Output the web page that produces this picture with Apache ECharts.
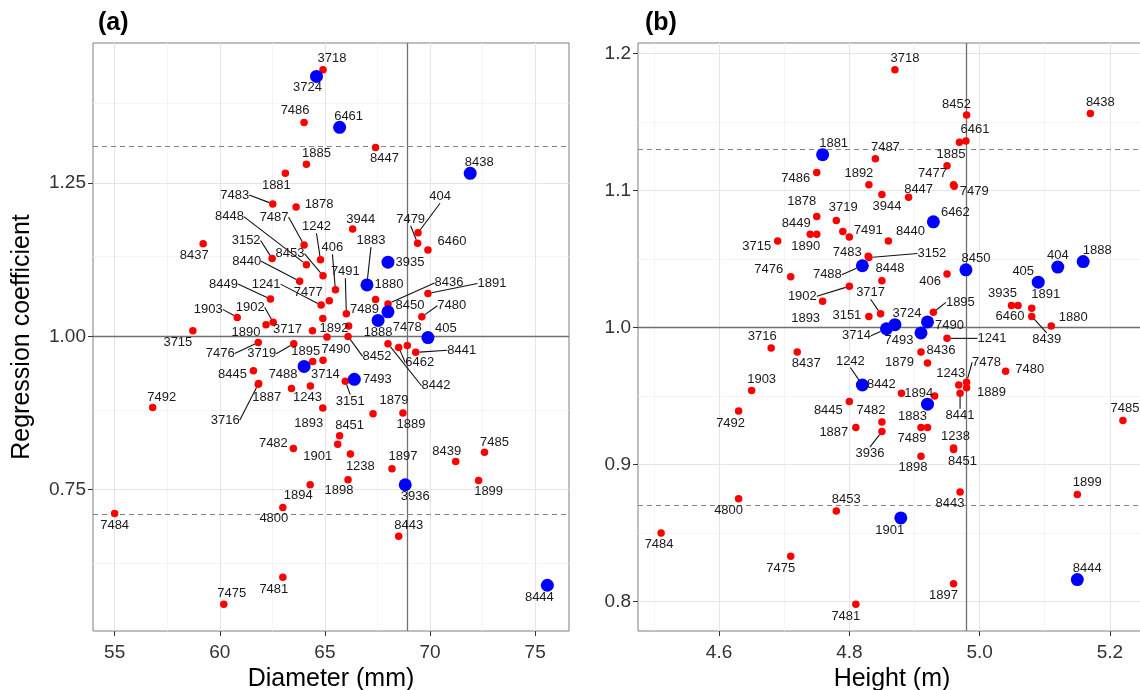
<!DOCTYPE html>
<html>
<head>
<meta charset="utf-8">
<title>Regression coefficient vs diameter and height</title>
<script src="https://cdn.jsdelivr.net/npm/echarts@6.0.0/dist/echarts.min.js"></script>
<style>
  html, body { margin: 0; padding: 0; background: #fff; }
  #chart { width: 1140px; height: 690px; }
</style>
</head>
<body>
<div id="chart"></div>
<script>
// ---------- panel (a): diameter ----------
const treeA = ['3718','3724','7486','6461','1885','1881','7483','1878','8447','8438',
  '7487','1242','8437','8448','3152','8453','8440','406','8449','1241',
  '7477','1903','1902','1890','3715','3717','7476','3719','1895','7490',
  '7488','3714','1243','8445','1887','3716','7492','3944','404','7479',
  '6460','3935','1883','1880','7491','7489','8450','8436','1891','7480',
  '1888','1892','8452','7478','8442','6462','8441','405','7493','3151',
  '1889','1879','8451','1901','1238','1898','1897','3936','8439','7485',
  '1899','8443','8444','1893','7482','1894','4800','7484','7481','7475','',''];
const diameterA = [64.91,64.60,64.01,65.70,64.12,63.12,62.52,63.63,67.41,71.91,
  64.01,64.79,59.21,64.12,62.49,64.91,63.80,65.50,62.41,64.82,
  65.21,60.83,62.54,62.20,58.72,64.41,61.83,63.52,64.42,64.91,
  64.01,64.31,63.41,61.60,61.85,61.83,56.81,66.32,69.43,69.41,
  69.90,68.00,67.00,67.00,66.02,67.41,68.00,68.00,69.90,69.61,
  67.53,65.10,66.10,68.92,68.00,68.51,69.32,69.90,66.40,65.97,
  68.71,67.29,65.70,65.61,66.21,66.10,68.19,68.82,71.22,72.59,
  72.31,68.51,75.58,64.90,63.50,64.30,63.00,55.00,63.00,60.19,64.90,66.13];
const coefA = [1.435,1.424,1.349,1.341,1.281,1.266,1.216,1.211,1.308,1.266,
  1.149,1.125,1.151,1.117,1.127,1.099,1.090,1.076,1.061,1.051,
  1.058,1.031,1.023,1.019,1.009,1.009,0.990,0.988,0.959,0.961,
  0.951,0.919,0.915,0.944,0.923,0.922,0.884,1.175,1.169,1.152,
  1.141,1.121,1.086,1.084,1.037,1.060,1.040,1.053,1.070,1.032,
  1.026,0.999,1.000,0.985,0.988,0.982,0.974,0.998,0.930,0.927,
  0.875,0.874,0.838,0.824,0.808,0.766,0.784,0.758,0.796,0.811,
  0.765,0.674,0.594,0.883,0.817,0.758,0.721,0.711,0.607,0.563,1.029,1.017];
const highlightA = ['3724','6461','8438','3935','1880','8450','1888','405','7488','7493','3936','8444'];
const refDiameter = 68.93;
const bandA = [0.711, 1.3075];

// ---------- panel (b): height ----------
const treeB = ['3718','8452','8438','6461','','1881','7487','1885','7486','1892',
  '7477','7479','8447','3944','1878','3719','6462','8449','1890','3715',
  '','7491','8440','7483','3152','7488','7476','8448','406','8450',
  '404','1888','405','3935','6460','1891','8439','1880','1902','1893',
  '3717','3151','3714','3724','7493','7490','1895','1241','8436','1879',
  '1243','7478','1889','8441','7480','3716','8437','1903','8445','7492',
  '1242','8442','1894','','1883','7482','3936','1887','7489','',
  '1898','1238','8451','8443','1901','1897','1899','8444','7485','4800',
  '8453','7484','7475','7481'];
const heightB = [4.870,4.980,5.170,4.979,4.969,4.759,4.840,4.950,4.750,4.830,
  4.960,4.961,4.891,4.850,4.750,4.780,4.929,4.740,4.750,4.690,
  4.790,4.800,4.860,4.829,4.830,4.820,4.710,4.850,4.950,4.979,
  5.120,5.159,5.090,5.049,5.059,5.080,5.080,5.110,4.800,4.759,
  4.848,4.830,4.857,4.870,4.910,4.920,4.929,4.950,4.910,4.920,
  4.968,4.980,4.980,4.970,5.040,4.680,4.720,4.650,4.800,4.630,
  4.820,4.820,4.931,4.880,4.920,4.850,4.850,4.810,4.910,4.920,
  4.910,4.960,4.960,4.970,4.879,4.960,5.150,5.150,5.220,4.630,
  4.780,4.511,4.710,4.810];
const coefB = [1.188,1.155,1.156,1.136,1.135,1.126,1.123,1.118,1.113,1.104,
  1.104,1.103,1.095,1.097,1.081,1.078,1.077,1.068,1.068,1.063,
  1.070,1.066,1.063,1.052,1.051,1.045,1.037,1.034,1.039,1.042,
  1.044,1.048,1.033,1.016,1.016,1.014,1.008,1.001,1.030,1.019,
  1.010,1.008,0.999,1.002,0.996,1.004,1.011,0.992,0.982,0.974,
  0.958,0.960,0.956,0.952,0.968,0.985,0.982,0.954,0.946,0.939,
  0.958,0.958,0.950,0.952,0.944,0.931,0.924,0.927,0.927,0.927,
  0.906,0.912,0.911,0.880,0.861,0.813,0.878,0.816,0.932,0.875,
  0.866,0.850,0.833,0.798];
const highlightB = ['1881','6462','7488','8450','404','1888','405','3714','3724','7493','7490','8442','1883','1901','8444'];
const refHeight = 4.98;
const bandB = [0.8658, 1.1349];

// ---------- tick labels ----------
const ticksDiameter = [55, 60, 65, 70, 75];
const minorDiameter = [57.5, 62.5, 67.5, 72.5];
const ticksCoefA = [0.75, 1.00, 1.25];
const minorCoefA = [0.625, 0.875, 1.125, 1.375];
const ticksHeight = [4.6, 4.8, 5.0, 5.2];
const minorHeight = [4.5, 4.7, 4.9, 5.1];
const ticksCoefB = [0.8, 0.9, 1.0, 1.1, 1.2];
const minorCoefB = [0.85, 0.95, 1.05, 1.15];

// ---------- label placement (px offset of label centre from its point) ----------
const labelPosA = {
  '3718':[9,-11],'3724':[-9,11],'7486':[-9,-12],'6461':[9,-11],'1885':[10,-11],'1881':[-9,12],
  '7483':[-38,-9],'1878':[23,-3],'8447':[9,11],'8438':[9,-11],'7487':[-30,-28],'1242':[-4,-33],
  '8437':[-9,12],'8448':[-77,-48],'3152':[-26,-18],'8453':[-33,-22],'8440':[-53,-20],'406':[-3,-42],
  '8449':[-47,-15],'1241':[-55,-21],'7477':[-21,-8],'1903':[-29,-8],'1902':[-23,-15],'1890':[-20,8],
  '3715':[-15,12],'3717':[-25,-1],'7476':[-38,11],'3719':[-32,10],'1895':[-7,-10],'7490':[13,-11],
  '7488':[-21,8],'3714':[15,-12],'1243':[16,9],'8445':[-21,4],'1887':[8,14],'3716':[-33,36],
  '7492':[9,-10],'3944':[8,-10],'404':[22,-36],'7479':[-7,-24],'6460':[24,-9],'3935':[22,0],
  '1883':[4,-43],'1880':[22,0],'7491':[-1,-42],'7489':[-11,10],'8450':[22,-6],'8436':[61,-21],
  '1891':[64,-10],'7480':[30,-11],'1888':[0,12],'1892':[7,-9],'8452':[29,20],'7478':[0,-18],
  '8442':[48,42],'6462':[21,15],'8441':[46,-2],'405':[18,-9],'7493':[23,0],'3151':[5,20],
  '1889':[8,11],'1879':[21,-13],'8451':[10,-10],'1901':[-20,12],'1238':[10,12],'1898':[-9,11],
  '1897':[11,-12],'3936':[10,12],'8439':[-9,-10],'7485':[10,-10],'1899':[10,11],'8443':[10,-11],
  '8444':[-8,12],'1893':[-14,15],'7482':[-20,-5],'1894':[-12,11],'4800':[-9,11],'7484':[0,12],
  '7481':[-9,12],'7475':[8,-11]
};
const leaderA = ['7483','7487','1242','8448','3152','8453','8440','406','8449','1241','1903','1902',
  '7476','3719','3716','404','7479','1883','7491','8436','1891','7480','8452','8442','6462','8441','3151'];

const labelPosB = {
  '3718':[10,-11],'8452':[-10,-11],'8438':[10,-11],'6461':[9,-12],'1881':[11,-11],'7487':[10,-11],
  '1885':[4,-11],'7486':[-21,6],'1892':[-10,-11],'7477':[-21,-11],'7479':[20,5],'8447':[10,-8],
  '3944':[5,12],'1878':[-15,-15],'3719':[7,-13],'6462':[22,-9],'8449':[-14,-11],'1890':[-11,12],
  '3715':[-21,5],'7491':[19,-7],'8440':[22,-10],'7483':[-21,-4],'3152':[63,-4],'7488':[-35,9],
  '7476':[-22,-7],'8448':[8,-12],'406':[-17,7],'8450':[10,-11],'404':[0,-12],'1888':[14,-11],
  '405':[-15,-11],'3935':[-9,-12],'6460':[-8,11],'1891':[14,-14],'8439':[15,23],'1880':[22,-9],
  '1902':[-47,10],'1893':[-17,17],'3717':[-10,-21],'3151':[-22,-1],'3714':[-30,7],'3724':[12,-11],
  '7493':[-22,8],'7490':[22,3],'1895':[27,-10],'1241':[45,0],'8436':[20,-2],'1879':[-28,-1],
  '1243':[-8,-12],'7478':[20,-20],'1889':[25,5],'8441':[0,22],'7480':[24,-2],'3716':[-9,-12],
  '8437':[9,11],'1903':[10,-11],'8445':[-21,9],'7492':[-8,12],'1242':[-12,-24],'8442':[19,-1],
  '1894':[-16,-3],'1883':[-15,12],'7482':[-11,-12],'3936':[-12,22],'1887':[-22,5],'7489':[-9,11],
  '1898':[-8,11],'1238':[2,-12],'8451':[9,12],'8443':[-10,12],'1901':[-11,12],'1897':[-10,12],
  '1899':[10,-12],'8444':[10,-11],'7485':[2,-12],'4800':[-10,12],'8453':[10,-12],'7484':[-2,11],
  '7475':[-10,12],'7481':[-10,12]
};
const leaderB = ['3152','7488','8439','1902','3717','3714','1895','1241','7478','8441','1242','3936'];

const FONT = "'Liberation Sans', Arial, Helvetica, sans-serif";

// ggplot-like 5% padding around the data
function padded(arr) {
  const lo = Math.min.apply(null, arr), hi = Math.max.apply(null, arr);
  const pad = (hi - lo) * 0.05;
  return [lo - pad, hi + pad];
}

function gridLines(idx, xMajor, xMinor, yMajor, yMinor) {
  const minor = { color: '#f0f0f0', width: 0.7, type: 'solid' };
  const major = { color: '#e5e5e5', width: 1.1, type: 'solid' };
  const data = [];
  xMinor.forEach(v => data.push({ xAxis: v, lineStyle: minor }));
  yMinor.forEach(v => data.push({ yAxis: v, lineStyle: minor }));
  xMajor.forEach(v => data.push({ xAxis: v, lineStyle: major }));
  yMajor.forEach(v => data.push({ yAxis: v, lineStyle: major }));
  return {
    type: 'scatter', xAxisIndex: idx, yAxisIndex: idx, data: [], silent: true, z: 1,
    markLine: { z: 1, silent: true, animation: false, symbol: ['none', 'none'], label: { show: false }, data: data }
  };
}

function refLines(idx, xRef, band) {
  const solid = { color: '#707070', width: 1.3, type: 'solid' };
  const dashed = { color: '#858585', width: 1, type: [5, 4] };
  return {
    type: 'scatter', xAxisIndex: idx, yAxisIndex: idx, data: [], silent: true, z: 2,
    markLine: {
      z: 2, silent: true, animation: false, symbol: ['none', 'none'], label: { show: false },
      data: [
        { yAxis: band[0], lineStyle: dashed },
        { yAxis: band[1], lineStyle: dashed },
        { yAxis: 1, lineStyle: solid },
        { xAxis: xRef, lineStyle: solid }
      ]
    }
  };
}

function pointSeries(idx, ids, xs, ys, blue, pos, leaders) {
  const groups = { red: { data: [], offs: [] }, blue: { data: [], offs: [] } };
  ids.forEach((id, i) => {
    const g = blue.indexOf(id) >= 0 ? groups.blue : groups.red;
    g.data.push({ value: [xs[i], ys[i]], name: id, labelLine: { show: leaders.indexOf(id) >= 0 } });
    g.offs.push(pos[id] || [0, -12]);
  });
  const make = (g, color, size, z) => ({
    type: 'scatter', xAxisIndex: idx, yAxisIndex: idx, z: z,
    data: g.data, symbolSize: size,
    itemStyle: { color: color, opacity: 1 },
    emphasis: { disabled: true },
    label: { show: true, position: 'inside', formatter: p => p.name, color: '#1a1a1a', fontSize: 13, fontFamily: FONT },
    labelLine: { show: false, lineStyle: { color: '#111', width: 1.1 } },
    labelLayout: function (p) {
      const o = g.offs[p.dataIndex];
      return {
        x: p.rect.x + p.rect.width / 2 + o[0],
        y: p.rect.y + p.rect.height / 2 + o[1],
        align: 'center', verticalAlign: 'middle'
      };
    }
  });
  return [make(groups.red, '#ff0000', 7.5, 3), make(groups.blue, '#0000ff', 13, 4)];
}

function valueAxis(idx, range, ticks, digits, name, nameGap, labelMargin) {
  return {
    type: 'value', gridIndex: idx, min: range[0], max: range[1],
    axisLine: { show: false },
    axisTick: { show: true, length: 5, customValues: ticks, lineStyle: { color: '#333', width: 1 } },
    axisLabel: { customValues: ticks, formatter: v => v.toFixed(digits), fontSize: 19, color: '#333', fontFamily: FONT, margin: labelMargin },
    splitLine: { show: false },
    name: name, nameLocation: 'middle', nameGap: nameGap,
    nameTextStyle: { fontSize: 25, color: '#000', fontFamily: FONT }
  };
}

const chart = echarts.init(document.getElementById('chart'));
const option = {
  backgroundColor: '#fff',
  animation: false,
  title: [
    { text: '(a)', left: 93, top: 6, textStyle: { fontSize: 25, fontWeight: 'bold', color: '#000', fontFamily: FONT } },
    { text: '(b)', left: 640, top: 6, textStyle: { fontSize: 25, fontWeight: 'bold', color: '#000', fontFamily: FONT } }
  ],
  grid: [
    { left: 93, top: 43, width: 476, height: 588, outerBoundsMode: 'none', containLabel: false,
      show: true, borderColor: '#7f7f7f', borderWidth: 1, backgroundColor: '#fff' },
    { left: 638, top: 43, width: 508, height: 588, outerBoundsMode: 'none', containLabel: false,
      show: true, borderColor: '#7f7f7f', borderWidth: 1, backgroundColor: '#fff' }
  ],
  xAxis: [
    valueAxis(0, padded(diameterA), ticksDiameter, 0, 'Diameter (mm)', 30, 12),
    valueAxis(1, padded(heightB), ticksHeight, 1, 'Height (m)', 30, 12)
  ],
  yAxis: [
    valueAxis(0, padded(coefA), ticksCoefA, 2, 'Regression coefficient', 58, 7),
    valueAxis(1, padded(coefB), ticksCoefB, 1, '', 40, 7)
  ],
  series: [].concat(
    gridLines(0, ticksDiameter, minorDiameter, ticksCoefA, minorCoefA),
    gridLines(1, ticksHeight, minorHeight, ticksCoefB, minorCoefB),
    refLines(0, refDiameter, bandA),
    refLines(1, refHeight, bandB),
    pointSeries(0, treeA, diameterA, coefA, highlightA, labelPosA, leaderA),
    pointSeries(1, treeB, heightB, coefB, highlightB, labelPosB, leaderB)
  )
};
chart.setOption(option);
window.addEventListener('resize', () => { chart.resize(); });
</script>
</body>
</html>
